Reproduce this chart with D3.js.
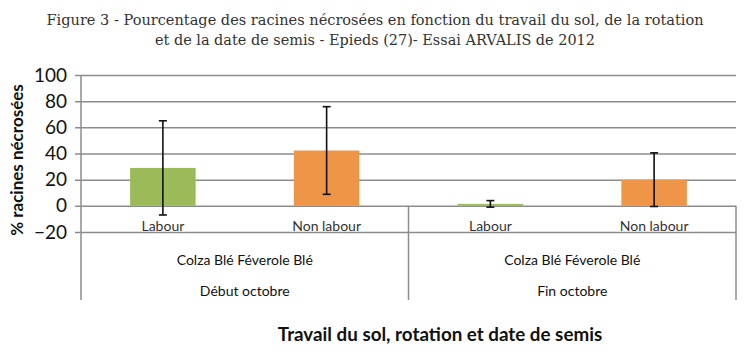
<!DOCTYPE html>
<html><head><meta charset="utf-8">
<script src="https://cdn.jsdelivr.net/npm/d3@7"></script>
<style>body{margin:0;background:#fff}svg{display:block}</style>
</head><body>
<svg id="c" width="747" height="359"></svg>
<script>
const titleLines = ["Figure 3 - Pourcentage des racines nécrosées en fonction du travail du sol, de la rotation",
                    "et de la date de semis - Epieds (27)- Essai ARVALIS de 2012"];
const dates = ["Début octobre", "Fin octobre"];
const rotations = ["Colza Blé Féverole Blé", "Colza Blé Féverole Blé"];
const travail = ["Labour", "Non labour"];
const labourValues = [29, 1.5];
const labourErrors = [36, 2.5];
const nonLabourValues = [42.3, 20];
const nonLabourErrors = [33.5, 20.5];
const yTicks = [-20, 0, 20, 40, 60, 80, 100];
const yTitle = "% racines nécrosées";
const xTitle = "Travail du sol, rotation et date de semis";
const colors = {"Labour": "#9BBB59", "Non labour": "#EE9548"};

const svg = d3.select("#c");
const pL = 81, pR = 736, pT = 75, pB = 232, catBottom = 300;
const y = d3.scaleLinear().domain([-20, 100]).range([pB, pT]);
const xg = d3.scaleBand().domain(d3.range(dates.length)).range([pL, pR]);
const xi = d3.scaleBand().domain(travail).range([0, xg.bandwidth()]).paddingInner(0.6).paddingOuter(0.3);

const font = "Lato, 'Open Sans', sans-serif";

// title
const titleWidths = [657, 440];
svg.append("g").selectAll("text").data(titleLines).join("text")
  .attr("x", 375).attr("y", (d, i) => 25 + i * 19.5)
  .attr("text-anchor", "middle")
  .attr("textLength", (d, i) => titleWidths[i]).attr("lengthAdjust", "spacingAndGlyphs")
  .style("font-family", "'DejaVu Serif', serif").style("font-size", "15.5px")
  .attr("fill", "#333").text(d => d);

// gridlines + y axis
const yAxis = d3.axisLeft(y).tickValues(yTicks).tickSize(6).tickSizeOuter(0).tickPadding(8);
const ga = svg.append("g").attr("transform", `translate(${pL},0)`).call(yAxis);
ga.select(".domain").remove();
ga.selectAll(".tick line").attr("x1", -6).attr("x2", pR - pL).attr("stroke", "#8c8c8c").attr("stroke-width", 1.5);
ga.selectAll(".tick text").style("font-family", font).style("font-size", "19px").attr("fill", "#111");

// vertical axis line
svg.append("line").attr("x1", pL).attr("x2", pL).attr("y1", pT).attr("y2", catBottom)
  .attr("stroke", "#8c8c8c").attr("stroke-width", 1.5);
// group separators
svg.append("g").selectAll("line").data(d3.range(1, dates.length + 1)).join("line")
  .attr("x1", i => i < dates.length ? xg(i) : pR).attr("x2", i => i < dates.length ? xg(i) : pR)
  .attr("y1", y(0)).attr("y2", catBottom).attr("stroke", "#8c8c8c").attr("stroke-width", 1.5);

// bars
const rows = [];
dates.forEach((d, i) => {
  rows.push({g: i, t: "Labour", v: labourValues[i], e: labourErrors[i]});
  rows.push({g: i, t: "Non labour", v: nonLabourValues[i], e: nonLabourErrors[i]});
});
svg.append("g").selectAll("rect").data(rows).join("rect")
  .attr("x", d => xg(d.g) + xi(d.t)).attr("width", xi.bandwidth())
  .attr("y", d => y(Math.max(0, d.v))).attr("height", d => Math.abs(y(d.v) - y(0)))
  .attr("fill", d => colors[d.t]);

// error bars
const eb = svg.append("g").selectAll("g").data(rows).join("g")
  .attr("transform", d => `translate(${xg(d.g) + xi(d.t) + xi.bandwidth() / 2},0)`);
eb.append("line").attr("y1", d => y(d.v + d.e)).attr("y2", d => y(d.v - d.e)).attr("stroke", "#111").attr("stroke-width", 1.6);
eb.append("line").attr("x1", -4).attr("x2", 4).attr("y1", d => y(d.v + d.e)).attr("y2", d => y(d.v + d.e)).attr("stroke", "#111").attr("stroke-width", 1.6);
eb.append("line").attr("x1", -4).attr("x2", 4).attr("y1", d => y(d.v - d.e)).attr("y2", d => y(d.v - d.e)).attr("stroke", "#111").attr("stroke-width", 1.6);

// category labels
svg.append("g").selectAll("text").data(rows).join("text")
  .attr("x", d => xg(d.g) + xi(d.t) + xi.bandwidth() / 2).attr("y", 231)
  .attr("text-anchor", "middle").style("font-family", font).style("font-size", "14px")
  .attr("fill", "#333").text(d => d.t);
svg.append("g").selectAll("text").data(rotations).join("text")
  .attr("x", (d, i) => xg(i) + xg.bandwidth() / 2).attr("y", 265)
  .attr("text-anchor", "middle").style("font-family", font).style("font-size", "14px")
  .attr("fill", "#111").text(d => d);
svg.append("g").selectAll("text").data(dates).join("text")
  .attr("x", (d, i) => xg(i) + xg.bandwidth() / 2).attr("y", 296)
  .attr("text-anchor", "middle").style("font-family", font).style("font-size", "14px")
  .attr("fill", "#111").text(d => d);

// axis titles
svg.append("text").attr("transform", "translate(23,160) rotate(-90)")
  .attr("text-anchor", "middle").style("font-family", font).style("font-size", "17px").style("font-weight", "bold")
  .attr("fill", "#111").text(yTitle);
svg.append("text").attr("x", 440).attr("y", 341)
  .attr("text-anchor", "middle").style("font-family", font).style("font-size", "18.8px").style("font-weight", "bold")
  .attr("fill", "#111").text(xTitle);
</script>
</body></html>
